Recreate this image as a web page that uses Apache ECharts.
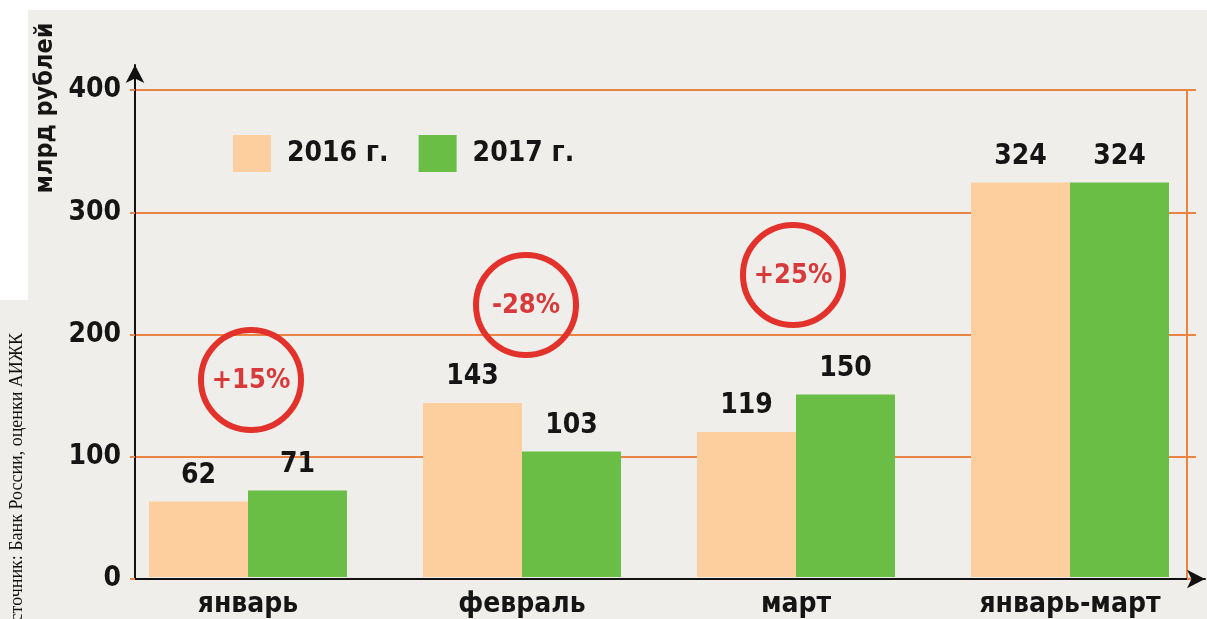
<!DOCTYPE html>
<html>
<head>
<meta charset="utf-8">
<style>
  html, body { margin: 0; padding: 0; background: #ffffff; }
  #chart { width: 1207px; height: 619px; }
</style>
<script src="https://cdn.jsdelivr.net/npm/echarts@6/dist/echarts.min.js"></script>
</head>
<body>
<div id="chart"></div>
<script>
// Categories and values (млрд рублей)
const categories = ['январь', 'февраль', 'март', 'январь-март'];
const seriesNames = ['2016 г.', '2017 г.'];
const values2016 = [62, 143, 119, 324];
const values2017 = [71, 103, 150, 324];
// Month-on-month change callouts for январь, февраль, март
const changeLabels = ['+15%', '-28%', '+25%'];
const axisName = 'млрд рублей';
const sourceNote = 'Источник: Банк России, оценки АИЖК';

const boldFont = '"DejaVu Sans Condensed", "Liberation Sans Narrow", "Noto Sans", sans-serif';
const peach = '#fdcf9e';
const green = '#6abd45';
const gridOrange = '#e98443';
const ringRed = '#e3312b';
const ink = '#151515';

const chart = echarts.init(document.getElementById('chart'), null, { renderer: 'canvas' });

// Callout circles sit above the January, February and March groups
const calloutPos = [[251, 380], [526, 305], [793, 275]];
const calloutGraphics = [];
changeLabels.forEach((txt, i) => {
  calloutGraphics.push({
    type: 'circle',
    shape: { cx: calloutPos[i][0], cy: calloutPos[i][1], r: 50 },
    style: { fill: 'none', stroke: ringRed, lineWidth: 6 },
    z: 10
  });
  calloutGraphics.push({
    type: 'text',
    x: calloutPos[i][0], y: calloutPos[i][1] + 1,
    style: {
      text: txt, fill: '#d8393a', font: 'bold 27px ' + boldFont,
      textAlign: 'center', textVerticalAlign: 'middle'
    },
    z: 10
  });
});

const labelStyle = { fontFamily: boldFont, fontWeight: 'bold', fontSize: 28, color: ink };

const option = {
  backgroundColor: '#efeeea',
  animation: false,
  legend: {
    data: seriesNames,
    left: 233, top: 135, padding: 0,
    icon: 'rect',
    itemWidth: 38, itemHeight: 37, itemGap: 30,
    textStyle: Object.assign({}, labelStyle, { padding: [0, 0, 0, 11] })
  },
  grid: [
    // frame with orange rules and value labels
    { left: 135, top: 90, width: 1052, height: 489 },
    // bar groups
    { left: 111, top: 90, width: 1104, height: 489 },
    // black axis lines with arrows
    { left: 135, top: 65, width: 1070, height: 514 }
  ],
  xAxis: [
    { gridIndex: 0, type: 'value', min: 0, max: 1, show: false },
    {
      gridIndex: 1, type: 'category', data: categories,
      axisLine: { show: false }, axisTick: { show: false },
      axisLabel: Object.assign({}, labelStyle, { margin: 14 })
    },
    {
      gridIndex: 2, type: 'value', min: 0, max: 1,
      axisLine: { show: true, lineStyle: { color: '#111', width: 2 }, symbol: ['none', 'arrow'], symbolSize: [14, 18] },
      axisTick: { show: false }, axisLabel: { show: false }, splitLine: { show: false }
    }
  ],
  yAxis: [
    {
      gridIndex: 0, type: 'value', min: 0, max: 400, interval: 100,
      axisLine: { show: false },
      axisTick: { show: true, length: 5, lineStyle: { color: gridOrange, width: 2 } },
      axisLabel: Object.assign({}, labelStyle, { margin: 14 }),
      splitLine: { show: true, lineStyle: { color: gridOrange, width: 2 } }
    },
    {
      gridIndex: 0, type: 'value', min: 0, max: 400, interval: 100, position: 'right',
      axisLine: { show: true, lineStyle: { color: gridOrange, width: 2 } },
      axisTick: { show: true, length: 9, lineStyle: { color: gridOrange, width: 2 } },
      axisLabel: { show: false }, splitLine: { show: false }
    },
    { gridIndex: 1, type: 'value', min: 0, max: 400, show: false },
    {
      gridIndex: 2, type: 'value', min: 0, max: 1,
      axisLine: { show: true, lineStyle: { color: '#111', width: 2 }, symbol: ['none', 'arrow'], symbolSize: [14, 18] },
      axisTick: { show: false }, axisLabel: { show: false }, splitLine: { show: false }
    }
  ],
  series: [
    {
      name: seriesNames[0], type: 'bar', xAxisIndex: 1, yAxisIndex: 2,
      data: values2016, barWidth: 99, barGap: '0%',
      itemStyle: { color: peach },
      label: Object.assign({ show: true, position: 'top', distance: 12 }, labelStyle)
    },
    {
      name: seriesNames[1], type: 'bar', xAxisIndex: 1, yAxisIndex: 2,
      data: values2017, barWidth: 99, barGap: '0%',
      itemStyle: { color: green },
      label: Object.assign({ show: true, position: 'top', distance: 12 }, labelStyle)
    }
  ],
  graphic: [
    { type: 'rect', left: 0, top: 0, shape: { width: 1207, height: 10 }, style: { fill: '#ffffff' }, z: -1 },
    { type: 'rect', left: 0, top: 0, shape: { width: 28, height: 300 }, style: { fill: '#ffffff' }, z: -1 },
    {
      type: 'text', x: 45, y: 108, rotation: Math.PI / 2,
      style: { text: axisName, fill: ink, font: 'bold 25px ' + boldFont, textAlign: 'center', textVerticalAlign: 'middle' }
    },
    {
      type: 'text', x: 17, y: 333, rotation: Math.PI / 2,
      style: { text: sourceNote, fill: '#111111', font: '18px "Liberation Serif", "DejaVu Serif", serif', textAlign: 'right', textVerticalAlign: 'middle' }
    }
  ].concat(calloutGraphics)
};

chart.setOption(option);
</script>
</body>
</html>
